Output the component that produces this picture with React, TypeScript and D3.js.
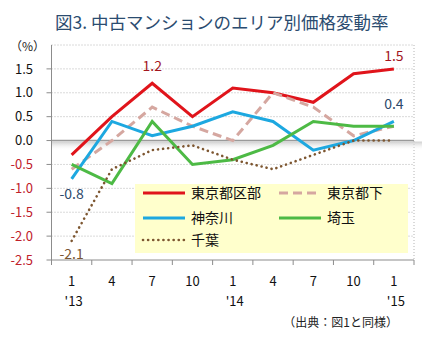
import React from 'react';
import * as d3 from 'd3';

const months = ['1', '4', '7', '10', '1', '4', '7', '10', '1'];
const years = ["'13", '', '', '', "'14", '', '', '', "'15"];
const yTicks = [-2.5, -2.0, -1.5, -1.0, -0.5, 0.0, 0.5, 1.0, 1.5];

const tokyoKubu = [-0.3, 0.5, 1.2, 0.5, 1.1, 1.0, 0.8, 1.4, 1.5];
const tokyoTaka = [-0.6, 0.0, 0.7, 0.3, 0.0, 1.0, 0.7, 0.1, 0.3];
const kanagawa = [-0.8, 0.4, 0.1, 0.3, 0.6, 0.4, -0.2, 0.0, 0.4];
const saitama = [-0.5, -0.9, 0.4, -0.5, -0.4, -0.1, 0.4, 0.3, 0.3];
const chiba = [-2.1, -0.6, -0.2, -0.1, -0.4, -0.6, -0.3, 0.0, 0.0];

const series = [
  { name: '東京都区部', values: tokyoKubu, color: '#E0141B', dash: '', width: 3, cap: 'butt' },
  { name: '東京都下', values: tokyoTaka, color: '#D5A7A0', dash: '9,5', width: 3, cap: 'butt' },
  { name: '神奈川', values: kanagawa, color: '#1DA8E0', dash: '', width: 3, cap: 'butt' },
  { name: '埼玉', values: saitama, color: '#4DBA45', dash: '', width: 3, cap: 'butt' },
  { name: '千葉', values: chiba, color: '#7D5630', dash: '0.1,5', width: 2.6, cap: 'round' },
];

const font = "'Noto Sans CJK JP', 'Noto Sans', sans-serif";

export default function App() {
  const W = 423;
  const H = 352;
  const left = 51.5;
  const right = 414;
  const top = 45;
  const bottom = 260;

  const x = d3.scaleBand<number>().domain(d3.range(months.length)).range([left, right]);
  const cx = (i: number) => (x(i) as number) + x.bandwidth() / 2;
  const y = d3.scaleLinear().domain([-2.5, 2.0]).range([bottom, top]);

  const line = d3
    .line<number>()
    .x((_, i) => cx(i))
    .y((d) => y(d));

  const gridVals = [-2.0, -1.5, -1.0, -0.5, 0.5, 1.0, 1.5, 2.0];

  const legendItems = [
    { s: series[0], lx: 143, ty: 193 },
    { s: series[1], lx: 279, ty: 193 },
    { s: series[2], lx: 143, ty: 218 },
    { s: series[3], lx: 279, ty: 218 },
    { s: series[4], lx: 143, ty: 240 },
  ];

  return (
    <svg
      width={W}
      height={H}
      style={{ position: 'absolute', left: 0, top: 0, background: '#fff' }}
      fontFamily={font}
    >
      <defs>
        <linearGradient id="zeroShadow" x1="0" y1="0" x2="0" y2="1">
          <stop offset="0%" stopColor="#c8c8c8" stopOpacity={0.9} />
          <stop offset="100%" stopColor="#ffffff" stopOpacity={0} />
        </linearGradient>
      </defs>

      {/* title */}
      <text x={55} y={29} fontSize={17.5} fill="#2B4C70" fontWeight={400}>
        図3. 中古マンションのエリア別価格変動率
      </text>
      <text x={10} y={51} fontSize={12} fill="#222">
        （%）
      </text>

      {/* grid */}
      {gridVals.map((v) => (
        <line
          key={v}
          x1={left}
          x2={right}
          y1={y(v)}
          y2={y(v)}
          stroke="#b4b4b4"
          strokeWidth={1}
          strokeDasharray="1,2"
        />
      ))}
      <line x1={right} x2={right} y1={top} y2={bottom} stroke="#b4b4b4" strokeDasharray="1,2" />

      {/* zero line with shadow */}
      <rect x={left} y={y(0) + 1} width={right - left + 8} height={9} fill="url(#zeroShadow)" />
      <line x1={left} x2={right} y1={y(0)} y2={y(0)} stroke="#9a9a9a" strokeWidth={1.5} />

      {/* axes */}
      <line x1={left} x2={left} y1={top} y2={bottom} stroke="#8c8c8c" />
      <line x1={left} x2={right} y1={bottom} y2={bottom} stroke="#8c8c8c" />
      {yTicks.map((v) => (
        <g key={v}>
          <line x1={left - 5} x2={left} y1={y(v)} y2={y(v)} stroke="#8c8c8c" />
          <text
            x={33}
            y={y(v)}
            dy="0.36em"
            textAnchor="end"
            fontSize={13}
            fill={v < 0 ? '#C0202A' : '#111'}
          >
            {v.toFixed(1)}
          </text>
        </g>
      ))}
      {d3.range(months.length + 1).map((i) => {
        const xx = i < months.length ? (x(i) as number) : right;
        return <line key={i} x1={xx} x2={xx} y1={bottom} y2={bottom + 5} stroke="#8c8c8c" />;
      })}
      {months.map((m, i) => (
        <g key={i}>
          <text x={cx(i)} y={286} textAnchor="middle" fontSize={13} fill="#111">
            {m}
          </text>
          {years[i] && (
            <text x={cx(i) + 2} y={306} textAnchor="middle" fontSize={13} fill="#111">
              {years[i]}
            </text>
          )}
        </g>
      ))}

      {/* lines */}
      {series.map((s) => (
        <path
          key={s.name}
          d={line(s.values) as string}
          fill="none"
          stroke={s.color}
          strokeWidth={s.width}
          strokeDasharray={s.dash || undefined}
          strokeLinecap={s.cap as any}
          strokeLinejoin="miter"
        />
      ))}

      {/* annotations */}
      <text x={cx(2)} y={y(1.2) - 12} textAnchor="middle" fontSize={14} fill="#A3161E">
        1.2
      </text>
      <text x={cx(8)} y={y(1.5) - 8} textAnchor="middle" fontSize={14} fill="#A3161E">
        1.5
      </text>
      <text x={cx(8)} y={y(0.4) - 12} textAnchor="middle" fontSize={14} fill="#2D4A6B">
        0.4
      </text>
      <text x={cx(0)} y={y(-0.8) + 20} textAnchor="middle" fontSize={14} fill="#2D4A6B">
        -0.8
      </text>
      <text x={cx(0)} y={y(-2.1) + 18} textAnchor="middle" fontSize={14} fill="#7A5634">
        -2.1
      </text>

      {/* legend */}
      <rect x={135} y={184} width={273} height={69} fill="#FFFFCC" />
      {legendItems.map(({ s, lx, ty }) => (
        <g key={s.name}>
          <line
            x1={lx}
            x2={lx + 42}
            y1={ty}
            y2={ty}
            stroke={s.color}
            strokeWidth={s.width}
            strokeDasharray={s.dash || undefined}
            strokeLinecap={s.cap as any}
          />
          <text x={lx + 48} y={ty} dy="0.36em" fontSize={14} fill="#111">
            {s.name}
          </text>
        </g>
      ))}

      {/* source */}
      <text x={398} y={327} textAnchor="end" fontSize={12} fill="#222">
        （出典：図1と同様）
      </text>
    </svg>
  );
}
